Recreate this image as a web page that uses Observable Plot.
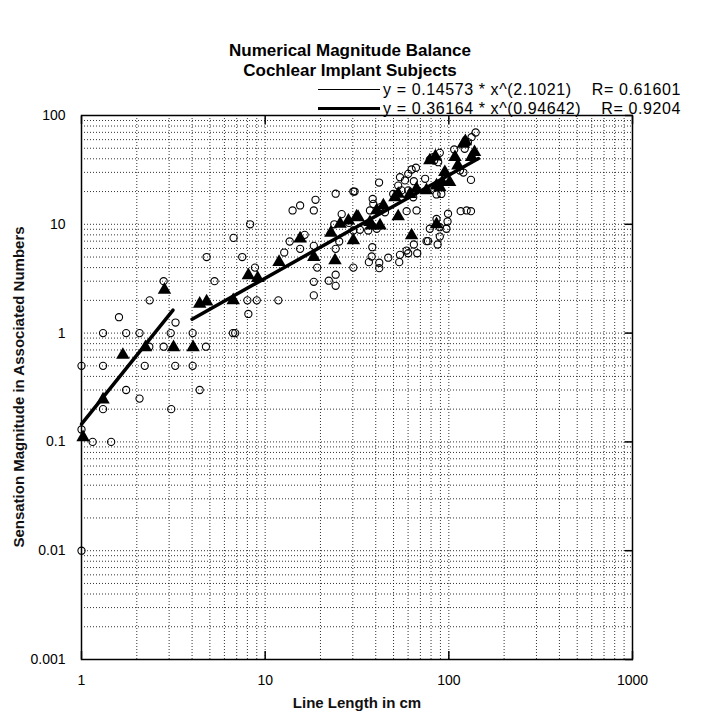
<!DOCTYPE html>
<html>
<head>
<meta charset="utf-8">
<script src="https://cdn.jsdelivr.net/npm/d3@7"></script>
<script src="https://cdn.jsdelivr.net/npm/@observablehq/plot@0.6"></script>
<style>
  html, body { margin: 0; padding: 0; background: #fff; }
  body { width: 716px; height: 712px; overflow: hidden; position: relative; font-family: "Liberation Sans", Arial, Helvetica, sans-serif; color: #000; }
  #header { position: relative; height: 112px; }
  #title { position: absolute; left: 0; width: 700px; top: 41px; text-align: center; font-weight: bold; font-size: 17px; line-height: 20px; }
  .leg { position: absolute; left: 318px; font-size: 16px; line-height: 19px; height: 19px; letter-spacing: 0.6px; white-space: pre; display: flex; align-items: center; }
  .leg .sw { display: inline-block; width: 62px; margin-right: 3px; background: #000; }
  #ytitle { position: absolute; left: 18px; top: 387px; transform: translate(-50%, -50%) rotate(-90deg); white-space: nowrap; font-weight: bold; font-size: 15px; color: #111; }
</style>
</head>
<body>
<div id="header">
  <div id="title"></div>
  <div class="leg" id="leg1" style="top:80px"></div>
  <div class="leg" id="leg2" style="top:99px"></div>
</div>
<div id="chart"></div>
<div id="ytitle"></div>
<script>
// ---- text ----
const titleLines = ["Numerical Magnitude Balance", "Cochlear Implant Subjects"];
const legendTexts = ["y = 0.14573 * x^(2.1021)    R= 0.61601", "y = 0.36164 * x^(0.94642)    R= 0.9204"];
const xTitle = "Line Length in cm";
const yTitle = "Sensation Magnitude in Associated Numbers";

// ---- axis ticks ----
const xTicks = [1, 10, 100, 1000];
const xTickLabels = ["1", "10", "100", "1000"];
const yTicks = [0.001, 0.01, 0.1, 1, 10, 100];
const yTickLabels = ["0.001", "0.01", "0.1", "1", "10", "100"];

// ---- open circles (individual responses) ----
const circleX = [1.0, 1.0, 1.15, 1.45, 1.31, 3.08, 2.07, 1.75, 4.4, 1.0, 1.31, 2.21, 3.24, 4.03, 2.34, 2.8, 4.76,
  1.31, 1.75, 2.07, 3.06, 4.03, 6.67, 6.87, 3.25, 1.6, 8.1, 2.35, 8.0, 9.0, 11.8, 2.8, 5.3, 8.8, 4.8, 7.5,
  6.73, 8.28, 12.7, 13.6, 14.1, 15.5, 15.5, 16.4, 18.4, 18.8, 18.4, 18.4, 18.4, 19.2, 22.2, 23.8, 24.2, 24.2,
  24.2, 24.2, 25.3, 26.1, 28.6, 30.2, 30.7, 30.2, 30.2, 32.8, 36.4, 40.5,
  37.2, 38.5, 38.8, 42.5, 44.9, 41.7, 49.8, 53.0, 55.3, 60.1, 57.7, 54.2, 60.1, 62.7, 66.2, 64.5, 74.3, 58.9, 66.7, 64,
  78.8, 82.2, 83.2, 87.5, 89.3, 107, 122, 127, 133, 140, 115, 120, 132,
  85.7, 91, 85.7, 99, 98.4, 116, 125, 132,
  78.8, 97, 89.3, 89.3, 75.6, 77, 86.9, 64.5, 58.9, 67.3, 60.1, 54.2, 53.7, 46.8, 41.8, 41.8, 36.7, 38.0, 38.3];
const circleY = [0.01, 0.13, 0.1, 0.1, 0.2, 0.2, 0.25, 0.3, 0.3, 0.5, 0.5, 0.5, 0.5, 0.5, 0.75, 0.75, 0.75,
  1, 1, 1, 1, 1, 1, 1, 1.25, 1.4, 1.5, 2, 2, 2, 2, 3, 3, 4, 5, 5,
  7.5, 10, 5.5, 6.95, 13.4, 14.9, 5.95, 8.0, 13.4, 16.8, 6.34, 2.96, 2.22, 4.0, 3.03, 10.0, 19.1, 5.95,
  3.44, 2.72, 6.95, 12.4, 10.3, 20.0, 20.0, 4.0, 8.77, 8.9, 8.77, 9.1,
  13.4, 17.1, 15.4, 14.4, 12.9, 24.2, 19, 22.7, 20.5, 20.5, 25.3, 27.1, 29.1, 31.9, 33.1, 24.9, 26.2, 13.2, 13.4, 17.7,
  39.2, 41.4, 38.6, 37.2, 45.4, 48.7, 49.4, 56.9, 63.2, 69.8, 31.2, 29.9, 25.6,
  18.8, 19, 11.2, 12.5, 10.6, 13.2, 13.4, 13.2,
  9.1, 9.1, 9.4, 7.72, 7.0, 7.0, 6.52, 6.52, 5.74, 5.42, 5.42, 5.24, 4.49, 4.93, 4.43, 3.95, 4.49, 5.06, 6.16];

// ---- filled triangles (means) ----
const triX = [1.02, 1.31, 1.68, 2.23, 2.83, 3.17, 4.05, 4.4, 4.8, 6.7, 8.1, 9.1,
  11.9, 15.5, 18.4, 24.0, 22.8, 25.6, 30.2, 31.5, 28.4, 32.1, 37.2, 38, 42.2, 40.5, 44, 53, 62.7,
  50.9, 53, 61.4, 66.7, 75.6, 85.7, 89.3, 92, 101, 95.1, 78.8, 84.5, 85.7, 108, 112, 120, 123, 133, 138];
const triY = [0.11, 0.245, 0.63, 0.74, 2.5, 0.74, 0.74, 1.86, 1.95, 2.0, 3.4, 3.2,
  4.5, 7.4, 5.0, 4.65, 8.35, 10.1, 7.1, 11.8, 10.8, 11.6, 10.45, 9.75, 9.75, 13.4, 14.9, 11.8, 7.9,
  17.7, 19, 18.9, 21.2, 20.5, 22.7, 21.9, 24.4, 24.4, 30.1, 38.6, 42, 10, 41.4, 34.7, 55, 58, 41.4, 46];

// ---- power-law fit segments (end points) ----
const fit1X = [1, 3.15];
const fit1Y = [0.1457, 1.625];
const fit2X = [4, 145];
const fit2Y = [1.343, 40.2];

// ---- build ----
document.getElementById("title").innerHTML = titleLines.join("<br>");
document.getElementById("ytitle").textContent = yTitle;
[["leg1", 1.2], ["leg2", 2.4]].forEach(([id, w], i) => {
  const el = document.getElementById(id);
  const sw = document.createElement("span");
  sw.className = "sw"; sw.style.height = w + "px";
  el.appendChild(sw);
  el.appendChild(document.createTextNode(legendTexts[i]));
});

const circles = circleX.map((x, i) => ({x, y: circleY[i]}));
const tris = triX.map((x, i) => ({x, y: triY[i]}));
const fit1 = fit1X.map((x, i) => ({x, y: fit1Y[i]}));
const fit2 = fit2X.map((x, i) => ({x, y: fit2Y[i]}));
const xLabelMap = new Map(xTicks.map((t, i) => [t, xTickLabels[i]]));
const yLabelMap = new Map(yTicks.map((t, i) => [t, yTickLabels[i]]));

const xGrid = d3.scaleLog().domain([1, 1000]).ticks();
const yGrid = d3.scaleLog().domain([0.001, 100]).ticks();

const chart = Plot.plot({
  width: 716,
  height: 600,
  marginTop: 3,
  marginBottom: 53,
  marginLeft: 81,
  marginRight: 84,
  style: {fontFamily: '"Liberation Sans", Arial, Helvetica, sans-serif', fontSize: "14px", color: "#000", background: "#fff", overflow: "visible"},
  x: {type: "log", domain: [1, 1000]},
  y: {type: "log", domain: [0.001, 100]},
  marks: [
    Plot.ruleX(xGrid, {stroke: "#000", strokeOpacity: 0.8, strokeWidth: 1, strokeDasharray: "1,2"}),
    Plot.ruleY(yGrid, {stroke: "#000", strokeOpacity: 0.8, strokeWidth: 1, strokeDasharray: "1,2"}),
    Plot.axisX({ticks: xTicks, tickSize: 0, tickPadding: 16, tickFormat: d => xLabelMap.get(d) ?? "", label: null, fontSize: 14}),
    Plot.axisY({ticks: yTicks, tickSize: 0, tickPadding: 16, tickFormat: d => yLabelMap.get(d) ?? "", label: null, fontSize: 14}),
    Plot.axisX({anchor: "bottom", ticks: xTicks, tickSize: -8, tickFormat: () => "", label: null, strokeWidth: 1.5}),
    Plot.axisX({anchor: "top", ticks: xTicks, tickSize: -8, tickFormat: () => "", label: null, strokeWidth: 1.5}),
    Plot.axisY({anchor: "right", ticks: yTicks, tickSize: -8, tickFormat: () => "", label: null, strokeWidth: 1.5}),
    Plot.text([xTitle], {frameAnchor: "bottom", dy: 48, text: d => d, fontSize: 15, fontWeight: "bold", fill: "#111"}),
    Plot.dot(circles, {x: "x", y: "y", r: 3.6, stroke: "#000", fill: "none", strokeWidth: 1.1}),
    Plot.line(fit1, {x: "x", y: "y", stroke: "#000", strokeWidth: 3.5}),
    Plot.line(fit2, {x: "x", y: "y", stroke: "#000", strokeWidth: 3.5}),
    Plot.dot(tris, {x: "x", y: "y", symbol: "triangle", r: 5, fill: "#000", stroke: "none"}),
    Plot.frame({stroke: "#000", strokeWidth: 1.5})
  ]
});
document.getElementById("chart").appendChild(chart);
</script>
</body>
</html>
